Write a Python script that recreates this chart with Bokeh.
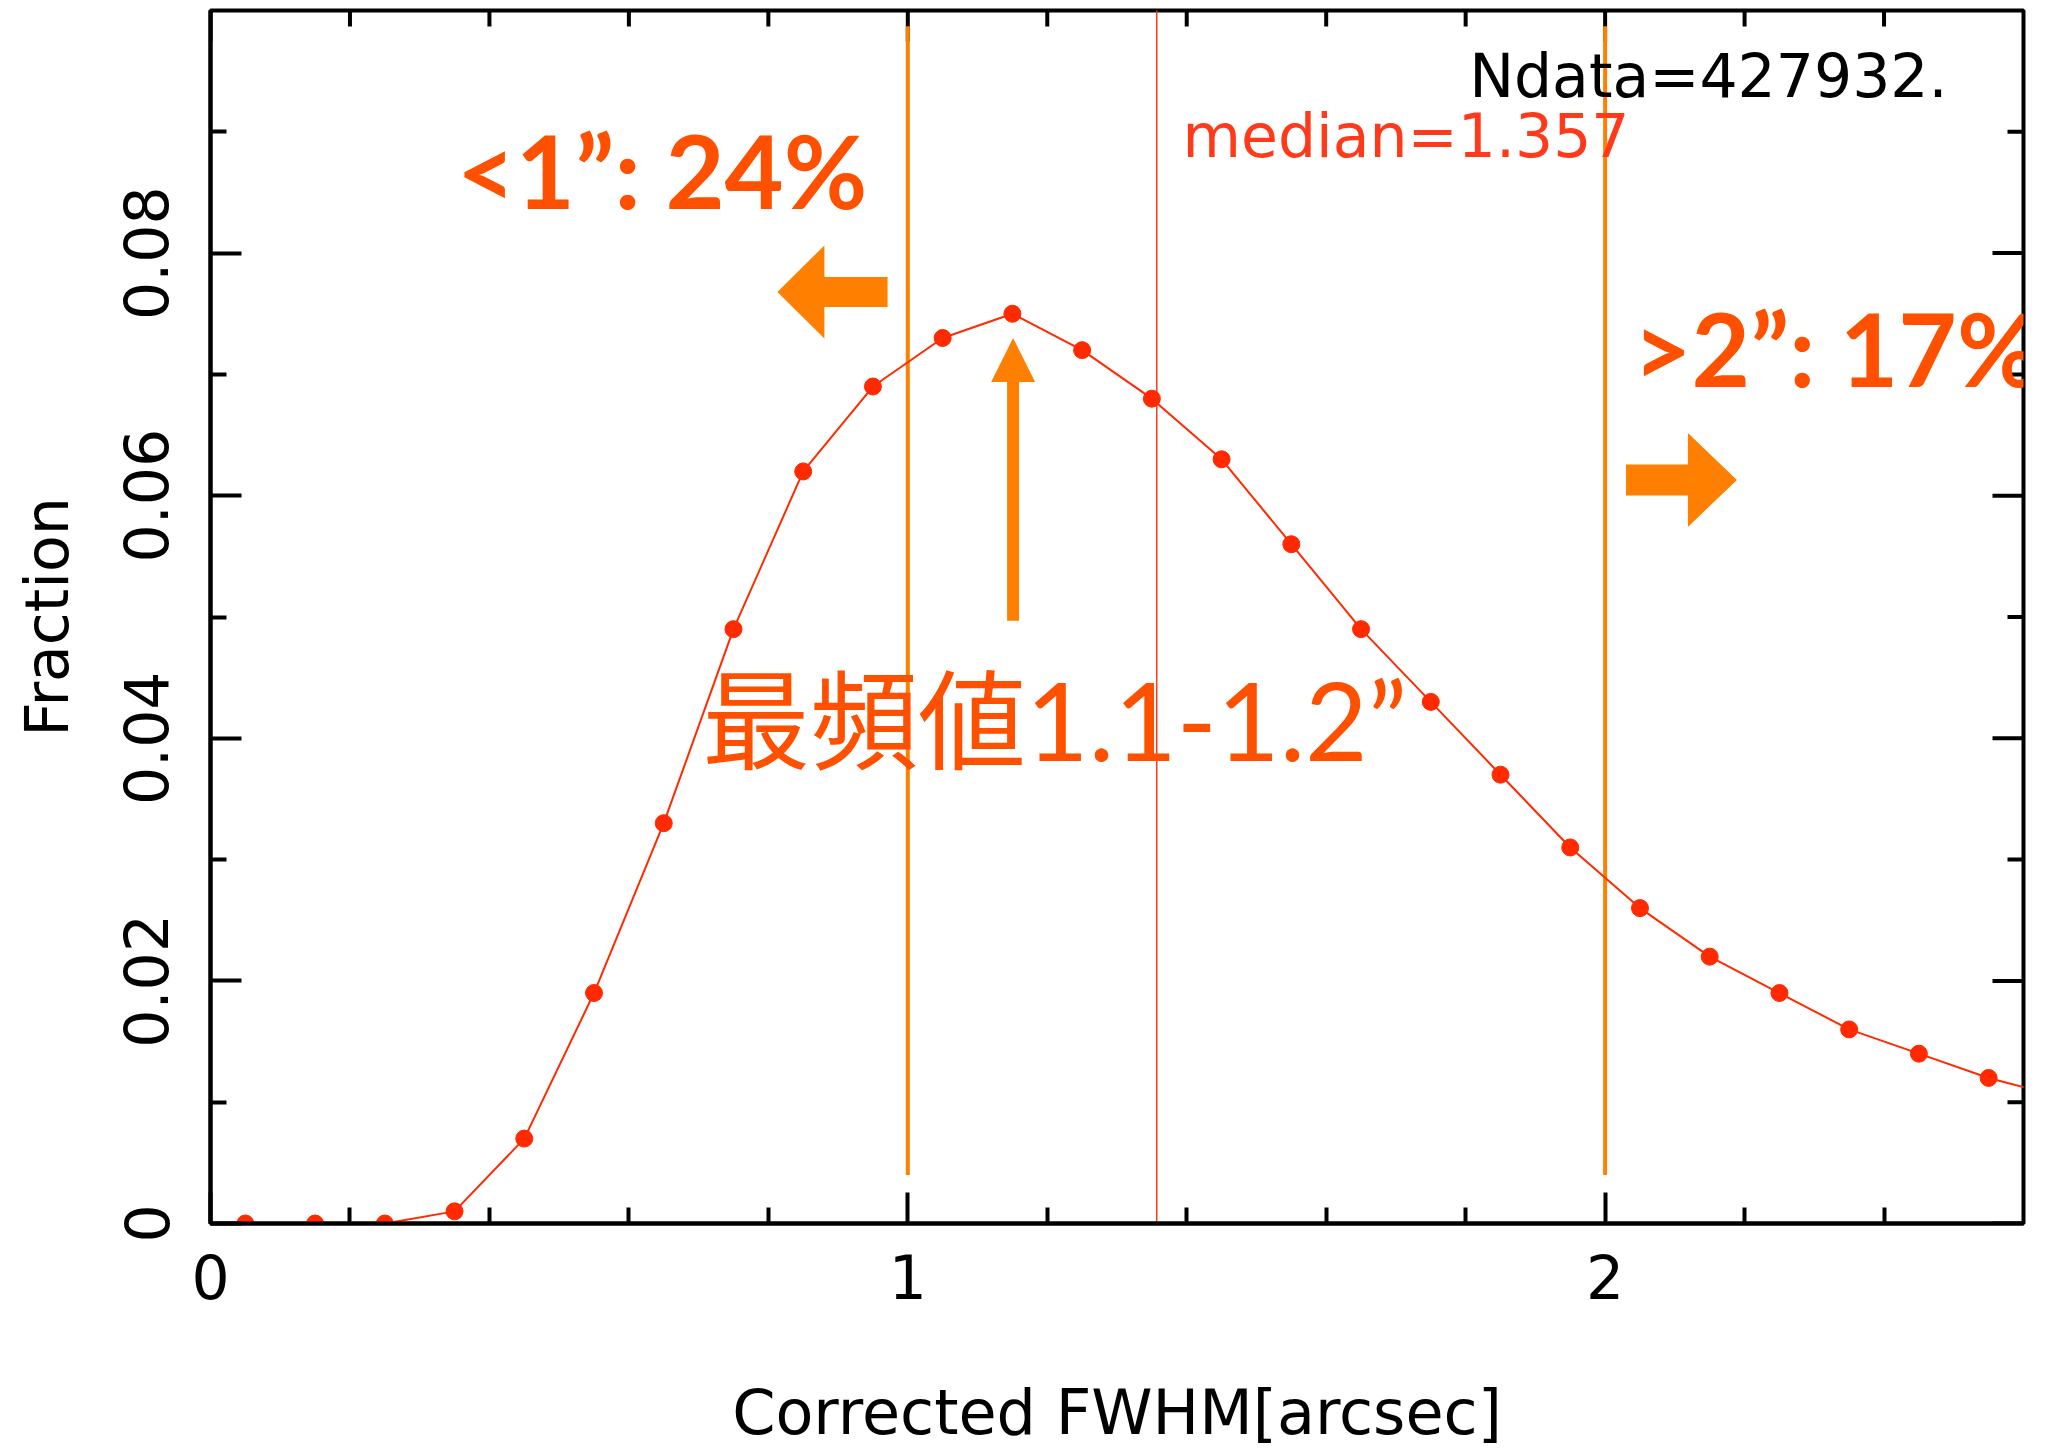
from bokeh.plotting import figure
from bokeh.models import (LinearAxis, FixedTicker, CustomJSTickFormatter, Label, Range1d)
from bokeh.embed import file_html
from bokeh.resources import INLINE

# ---------------- data ----------------
fwhm = [0.05, 0.15, 0.25, 0.35, 0.45, 0.55, 0.65, 0.75, 0.85, 0.95,
        1.05, 1.15, 1.25, 1.35, 1.45, 1.55, 1.65, 1.75, 1.85, 1.95,
        2.05, 2.15, 2.25, 2.35, 2.45, 2.55, 2.65]
fraction = [0.0, 0.0, 0.0, 0.001, 0.007, 0.019, 0.033, 0.049, 0.062, 0.069,
            0.073, 0.075, 0.072, 0.068, 0.063, 0.056, 0.049, 0.043, 0.037, 0.031,
            0.026, 0.022, 0.019, 0.016, 0.014, 0.012, 0.0105]
median_value = 1.357
cut_lines = [1.0, 2.0]
x_major_ticks = [0, 1, 2]
x_minor_ticks = [0.2, 0.4, 0.6, 0.8, 1.2, 1.4, 1.6, 1.8, 2.2, 2.4]
y_major_ticks = [0.0, 0.02, 0.04, 0.06, 0.08]
y_minor_ticks = [0.01, 0.03, 0.05, 0.07, 0.09]
ndata_text = "Ndata=427932."
median_text = "median=1.357"
below_text = "<1\u201d: 24%"
above_text = ">2\u201d: 17%"
mode_text = "最頻値1.1-1.2\u201d"

X0, X1 = 0.0, 2.6
Y0, Y1 = 0.0, 0.1
FW, FH = 1813, 1213
PXX = FW / (X1 - X0)   # px per x unit
PXY = FH / (Y1 - Y0)   # px per y unit

RED = "#ff2a00"
ORANGE = "#ff8000"
TXT = "#ff5000"
MED = "#ff3a1a"
FONT = "DejaVu Sans"

p = figure(x_range=Range1d(X0, X1), y_range=Range1d(Y0, Y1),
           frame_width=FW, frame_height=FH,
           min_border_left=210, min_border_top=10, min_border_right=18, min_border_bottom=217,
           x_axis_type=None, y_axis_type=None,
           output_backend="svg", toolbar_location=None)
p.grid.visible = False
p.outline_line_color = "black"
p.outline_line_width = 4
p.background_fill_color = "white"
p.border_fill_color = "white"

MAJ_LEN, MIN_LEN = 31, 16

def style_axis(ax):
    ax.axis_line_width = 4
    ax.axis_line_color = "black"
    ax.major_tick_in = MAJ_LEN
    ax.major_tick_out = 0
    ax.minor_tick_in = MIN_LEN
    ax.minor_tick_out = 0
    ax.major_tick_line_width = 4
    ax.minor_tick_line_width = 4
    ax.major_tick_line_color = "black"
    ax.minor_tick_line_color = "black"
    ax.major_label_text_font = FONT
    ax.major_label_text_color = "black"
    ax.axis_label_text_font = FONT
    ax.axis_label_text_color = "black"
    ax.axis_label_text_font_style = "normal"

xt = FixedTicker(ticks=x_major_ticks, minor_ticks=x_minor_ticks)
yt = FixedTicker(ticks=y_major_ticks, minor_ticks=y_minor_ticks)
yfmt = CustomJSTickFormatter(code="return tick == 0 ? '0' : tick.toFixed(2);")
xfmt = CustomJSTickFormatter(code="return tick.toFixed(0);")

bottom = LinearAxis(ticker=xt, formatter=xfmt, axis_label="Corrected FWHM[arcsec]")
style_axis(bottom)
bottom.major_label_text_font_size = "60px"
bottom.major_label_standoff = 30
bottom.axis_label_text_font_size = "62px"
bottom.axis_label_standoff = 74
p.add_layout(bottom, "below")

left = LinearAxis(ticker=yt, formatter=yfmt, axis_label="Fraction")
style_axis(left)
left.major_label_text_font_size = "60px"
left.major_label_orientation = "vertical"
left.major_label_standoff = 42
left.axis_label_text_font_size = "60px"
left.axis_label_standoff = 39
p.add_layout(left, "left")

# mirrored ticks on the top and right edges (drawn from the tick arrays)
tx0, ty0, tx1, ty1 = [], [], [], []
for t in x_major_ticks + x_minor_ticks:
    ln = MAJ_LEN if t in x_major_ticks else MIN_LEN
    tx0.append(t); tx1.append(t); ty0.append(Y1); ty1.append(Y1 - ln / PXY)
for t in y_major_ticks + y_minor_ticks:
    ln = MAJ_LEN if t in y_major_ticks else MIN_LEN
    ty0.append(t); ty1.append(t); tx0.append(X1); tx1.append(X1 - ln / PXX)
p.segment(x0=tx0, y0=ty0, x1=tx1, y1=ty1, line_color="black", line_width=4)

# vertical lines
for xv in cut_lines:
    p.segment(x0=[xv], y0=[0.004], x1=[xv], y1=[0.0987], line_color=ORANGE, line_width=4)
p.segment(x0=[median_value], y0=[Y0], x1=[median_value], y1=[Y1], line_color=MED, line_width=1.5)

# data
p.line(fwhm, fraction, line_color=RED, line_width=2)
p.scatter(fwhm, fraction, size=17, fill_color=RED, line_color=RED)

# arrows (tip, tail) in data units; sizes in px
arrows = [
    dict(tip=(0.813, 0.0768), tail=(0.971, 0.0768), shaft=30, head_w=93, head_l=47),
    dict(tip=(2.189, 0.0613), tail=(2.030, 0.0613), shaft=31, head_w=94, head_l=49),
    dict(tip=(1.151, 0.0730), tail=(1.151, 0.0497), shaft=12, head_w=44, head_l=44),
]
xs_all, ys_all = [], []
for a in arrows:
    tx, ty = a["tip"][0] * PXX, a["tip"][1] * PXY
    sx, sy = a["tail"][0] * PXX, a["tail"][1] * PXY
    dx, dy = tx - sx, ty - sy
    L = (dx * dx + dy * dy) ** 0.5
    ux, uy = dx / L, dy / L
    nx, ny = -uy, ux
    bx, by = tx - ux * a["head_l"], ty - uy * a["head_l"]
    hs, hh = a["shaft"] / 2, a["head_w"] / 2
    pts = [(sx + nx * hs, sy + ny * hs), (bx + nx * hs, by + ny * hs), (bx + nx * hh, by + ny * hh),
           (tx, ty), (bx - nx * hh, by - ny * hh), (bx - nx * hs, by - ny * hs), (sx - nx * hs, sy - ny * hs)]
    xs_all.append([q[0] / PXX for q in pts])
    ys_all.append([q[1] / PXY for q in pts])
p.patches(xs_all, ys_all, fill_color=ORANGE, line_color=None)

# labels (baseline positions in data units, corrected for the renderer's baseline offset)
def add_label(x, y, text, font, size, color, bold=False):
    yy = y + 0.36 * size / PXY
    kw = dict(text_font_style="bold") if bold else {}
    p.add_layout(Label(x=x, y=yy, text=text, text_font=font, text_font_size=f"{size}px",
                       text_color=color, text_baseline="alphabetic", **kw))

add_label(1.805, 0.0928, ndata_text, FONT, 60, "black")
add_label(1.394, 0.0879, median_text, FONT, 60, MED)
add_label(0.353, 0.0839, below_text, "Lato", 102, TXT, bold=True)
add_label(2.040, 0.0692, above_text, "Lato", 101, TXT, bold=True)
add_label(0.705, 0.0384, mode_text, "Lato, 'Noto Sans CJK JP'", 108, TXT)

open("out.html", "w").write(file_html(p, INLINE))
